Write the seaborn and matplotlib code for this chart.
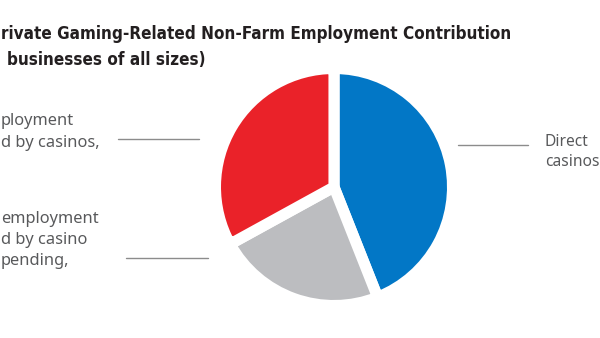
import matplotlib
matplotlib.use("Agg")
import matplotlib.pyplot as plt
from matplotlib.lines import Line2D
from matplotlib import font_manager as fm
import seaborn as sns

# ---- data ----
categories = ["Direct employment by casinos",
              "Induced employment supported by casino spending",
              "Indirect employment supported by casinos"]
shares = [44, 23, 33]
colors = ["#0277c6", "#bcbdc0", "#ea2229"]
# visible text of the (cropped) reference
title_line1 = "rivate Gaming-Related Non-Farm Employment Contribution"
title_line2 = "businesses of all sizes)"
label_indirect = ["ployment", "d by casinos,"]
label_induced = ["employment", "d by casino", "pending,"]
label_direct = ["Direct", "casinos"]

sns.set_theme(style="white")
plt.rcParams['font.family'] = ['Noto Sans', 'DejaVu Sans']

W, H = 600, 338
fig = plt.figure(figsize=(6, 3.38), dpi=100)
fig.patch.set_facecolor("white")

def fx(px):
    return px / W

def fy(py):
    return 1 - py / H

# pick a narrow bold font for the title if available
title_font = None
for fam, stretch in [("Liberation Sans Narrow", "normal"),
                     ("DejaVu Sans", "condensed"),
                     ("Roboto Condensed", "normal"),
                     ("Roboto", "normal")]:
    try:
        path = fm.findfont(fm.FontProperties(family=fam, weight="bold", stretch=stretch),
                           fallback_to_default=False)
    except Exception:
        continue
    if stretch == "condensed" and "ondensed" not in path:
        continue
    title_font = fm.FontProperties(fname=path)
    break
if title_font is None:
    title_font = fm.FontProperties(family="DejaVu Sans", weight="bold")

# pie axes (square in pixels)
cx, cy, half = 334, 187, 130.4
ax = fig.add_axes([fx(cx - half), fy(cy + half), 2 * half / W, 2 * half / H])
ax.pie(shares, colors=sns.color_palette(colors), startangle=90, counterclock=False,
       radius=1.0, wedgeprops=dict(edgecolor="white", linewidth=8))
ax.set_xlim(-1.1, 1.1)
ax.set_ylim(-1.1, 1.1)
ax.set_aspect("auto")
ax.axis("off")

# title, fitted to the reference width
renderer = fig.canvas.get_renderer()
t1 = fig.text(fx(1), fy(39), title_line1, ha="left", va="baseline",
              fontproperties=title_font, color="#231f20")
t1.set_fontsize(16)
w = t1.get_window_extent(renderer).width
fs = min(16, 16 * 511 / w)
t1.set_fontsize(fs)
t2 = fig.text(fx(7), fy(65), title_line2, ha="left", va="baseline",
              fontproperties=title_font, color="#231f20")
t2.set_fontsize(fs)

lab_col = "#58595b"
lfs = 11.8
for txt, yb in zip(label_indirect, [125, 147]):
    fig.text(fx(1), fy(yb), txt, ha="left", va="baseline", fontsize=lfs, color=lab_col)
for txt, yb in zip(label_induced, [223, 244, 265]):
    fig.text(fx(1), fy(yb), txt, ha="left", va="baseline", fontsize=lfs, color=lab_col)
for txt, yb in zip(label_direct, [146, 166]):
    fig.text(fx(545), fy(yb), txt, ha="left", va="baseline", fontsize=11.2, color=lab_col)

lc = "#8c8c8c"
for (x0, x1, y) in [(118, 199, 139), (126, 208, 258), (458, 528, 145)]:
    fig.add_artist(Line2D([fx(x0), fx(x1)], [fy(y), fy(y)], color=lc, lw=1.0,
                          transform=fig.transFigure))

fig.savefig("out.png", dpi=100, facecolor="white")
